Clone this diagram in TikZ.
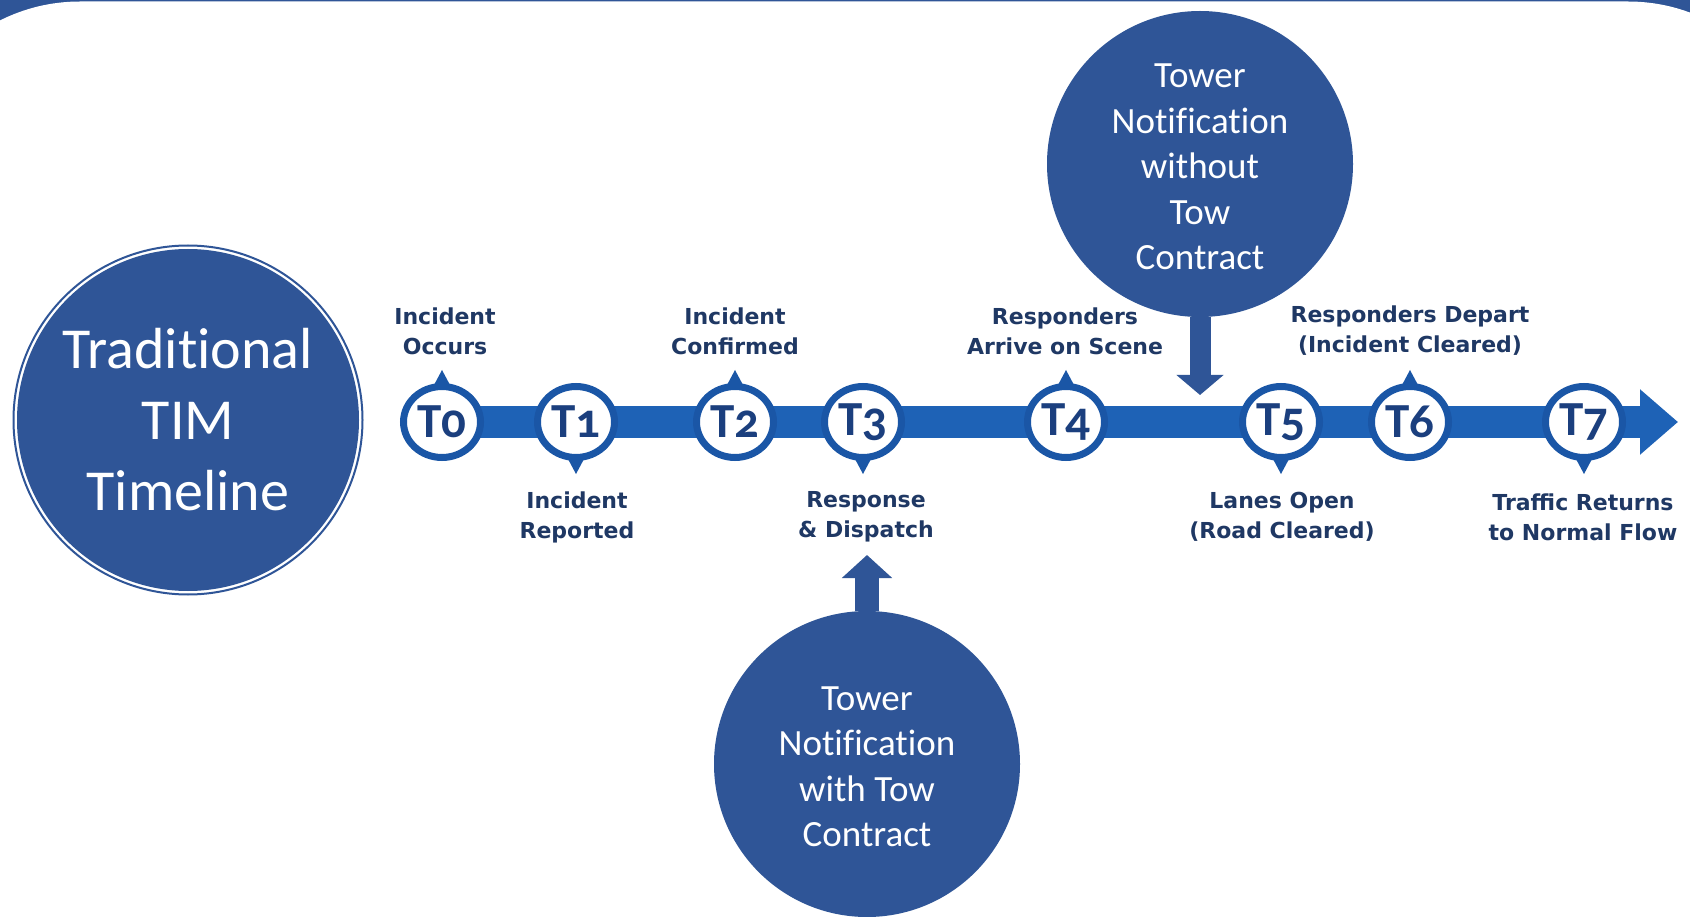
\documentclass[tikz,border=0pt]{standalone}
\usepackage{fontspec}
\setmainfont[Ligatures=NoCommon]{Carlito}
\newfontfamily\labfont{DejaVu Sans}
\newfontfamily\tfont[Numbers=OldStyle,Ligatures=NoCommon]{Carlito}
\usetikzlibrary{arrows.meta,shapes.geometric}
\definecolor{circblue}{HTML}{2F5597}
\definecolor{barblue}{HTML}{1E62B6}
\definecolor{ringblue}{HTML}{1A56A6}
\definecolor{navy}{HTML}{1F3864}
\definecolor{tnavy}{HTML}{1B3F7E}
\newcommand\ptrup[1]{\fill[ringblue] ([xshift=-8pt,yshift=-2pt]#1.north) -- ([xshift=8pt,yshift=-2pt]#1.north) -- ([yshift=13pt]#1.north) -- cycle;}
\newcommand\ptrdn[1]{\fill[ringblue] ([xshift=-8pt,yshift=2pt]#1.south) -- ([xshift=8pt,yshift=2pt]#1.south) -- ([yshift=-13pt]#1.south) -- cycle;}
\begin{document}
\begin{tikzpicture}[x=1pt,y=-1pt,
  bigcirc/.style={circle, fill=circblue, inner sep=0pt, text=white, align=center},
  ctext/.style={text=white, align=center, inner sep=0pt, font=\fontsize{37}{45.5}\selectfont},
  tnode/.style={ellipse, draw=ringblue, line width=7pt, fill=white, minimum width=77pt, minimum height=71pt, inner sep=0pt},
  ttext/.style={text=tnavy, inner sep=0pt, font=\tfont\bfseries\fontsize{49}{49}\selectfont},
  lab/.style={text=navy, align=center, font=\labfont\bfseries\fontsize{22}{30}\selectfont, inner sep=0pt},
  bar/.style={draw=barblue, line width=32pt, -{Triangle[length=38pt, width=63pt]}},
  tarrow/.style={draw=circblue, line width=21pt, -{Triangle[length=20pt, width=46pt]}},
  uarrow/.style={draw=circblue, line width=24pt, -{Triangle[length=23pt, width=49pt]}}]
\useasboundingbox (0,0) rectangle (1690,917);
% frame
\fill[circblue] (0,0) rectangle (1690,917);
\fill[white, rounded corners=178pt] (-98,1.5) rectangle (1806,1200);

% title circle
\node[bigcirc, minimum size=342pt, font=\fontsize{58}{71}\selectfont] (title) at (188,420) {Traditional\\TIM\\Timeline};
\draw[circblue, line width=2pt] (title.center) circle (174.5);

% notification circles
\node[bigcirc, minimum size=306pt] (wo) at (1200,164) {};
\node[ctext] (wotext) at (1200,167) {Tower\\Notification\\without\\Tow\\Contract};
\node[bigcirc, minimum size=306pt] (wt) at (867,764) {};
\node[ctext] (wttext) at (867,767) {Tower\\Notification\\with Tow\\Contract};

% timeline
\coordinate (bstart) at (442,422);
\coordinate (bend) at (1678,422);
\draw[bar] (bstart) -- (bend);

\node[tnode] (T0) at (442,422) {};
\node[tnode] (T1) at (576,422) {};
\node[tnode] (T2) at (735,422) {};
\node[tnode] (T3) at (863,422) {};
\node[tnode] (T4) at (1066,422) {};
\node[tnode] (T5) at (1281,422) {};
\node[tnode] (T6) at (1410,422) {};
\node[tnode] (T7) at (1584,422) {};
\ptrup{T0} \ptrdn{T1} \ptrup{T2} \ptrdn{T3} \ptrup{T4} \ptrdn{T5} \ptrup{T6} \ptrdn{T7}

\node[ttext] (t0) at (T0) {T0};
\node[ttext] (t1) at (T1) {T1};
\node[ttext] (t2) at (T2) {T2};
\node[ttext] (t3) at (T3) {T3};
\node[ttext] (t4) at (T4) {T4};
\node[ttext] (t5) at (T5) {T5};
\node[ttext] (t6) at (T6) {T6};
\node[ttext] (t7) at (T7) {T7};

% labels
\node[lab] (l0) at (445,331) {Incident\\Occurs};
\node[lab] (l1) at (577,517) {Incident\\Reported};
\node[lab] (l2) at (735,331) {Incident\\Confirmed};
\node[lab] (l3) at (866,517) {Response\\\& Dispatch};
\node[lab] (l4) at (1065,331) {Responders\\Arrive on Scene};
\node[lab] (l5) at (1282,517) {Lanes Open\\(Road Cleared)};
\node[lab] (l6) at (1410,331) {Responders Depart\\(Incident Cleared)};
\node[lab] (l7) at (1583,517) {Traffic Returns\\to Normal Flow};

% notification arrows
\coordinate (c5) at (1200,395);
\coordinate (c3) at (867,555);
\draw[tarrow] (wo.south) -- (c5);
\draw[uarrow] (wt.north) -- (c3);
\end{tikzpicture}
\end{document}
